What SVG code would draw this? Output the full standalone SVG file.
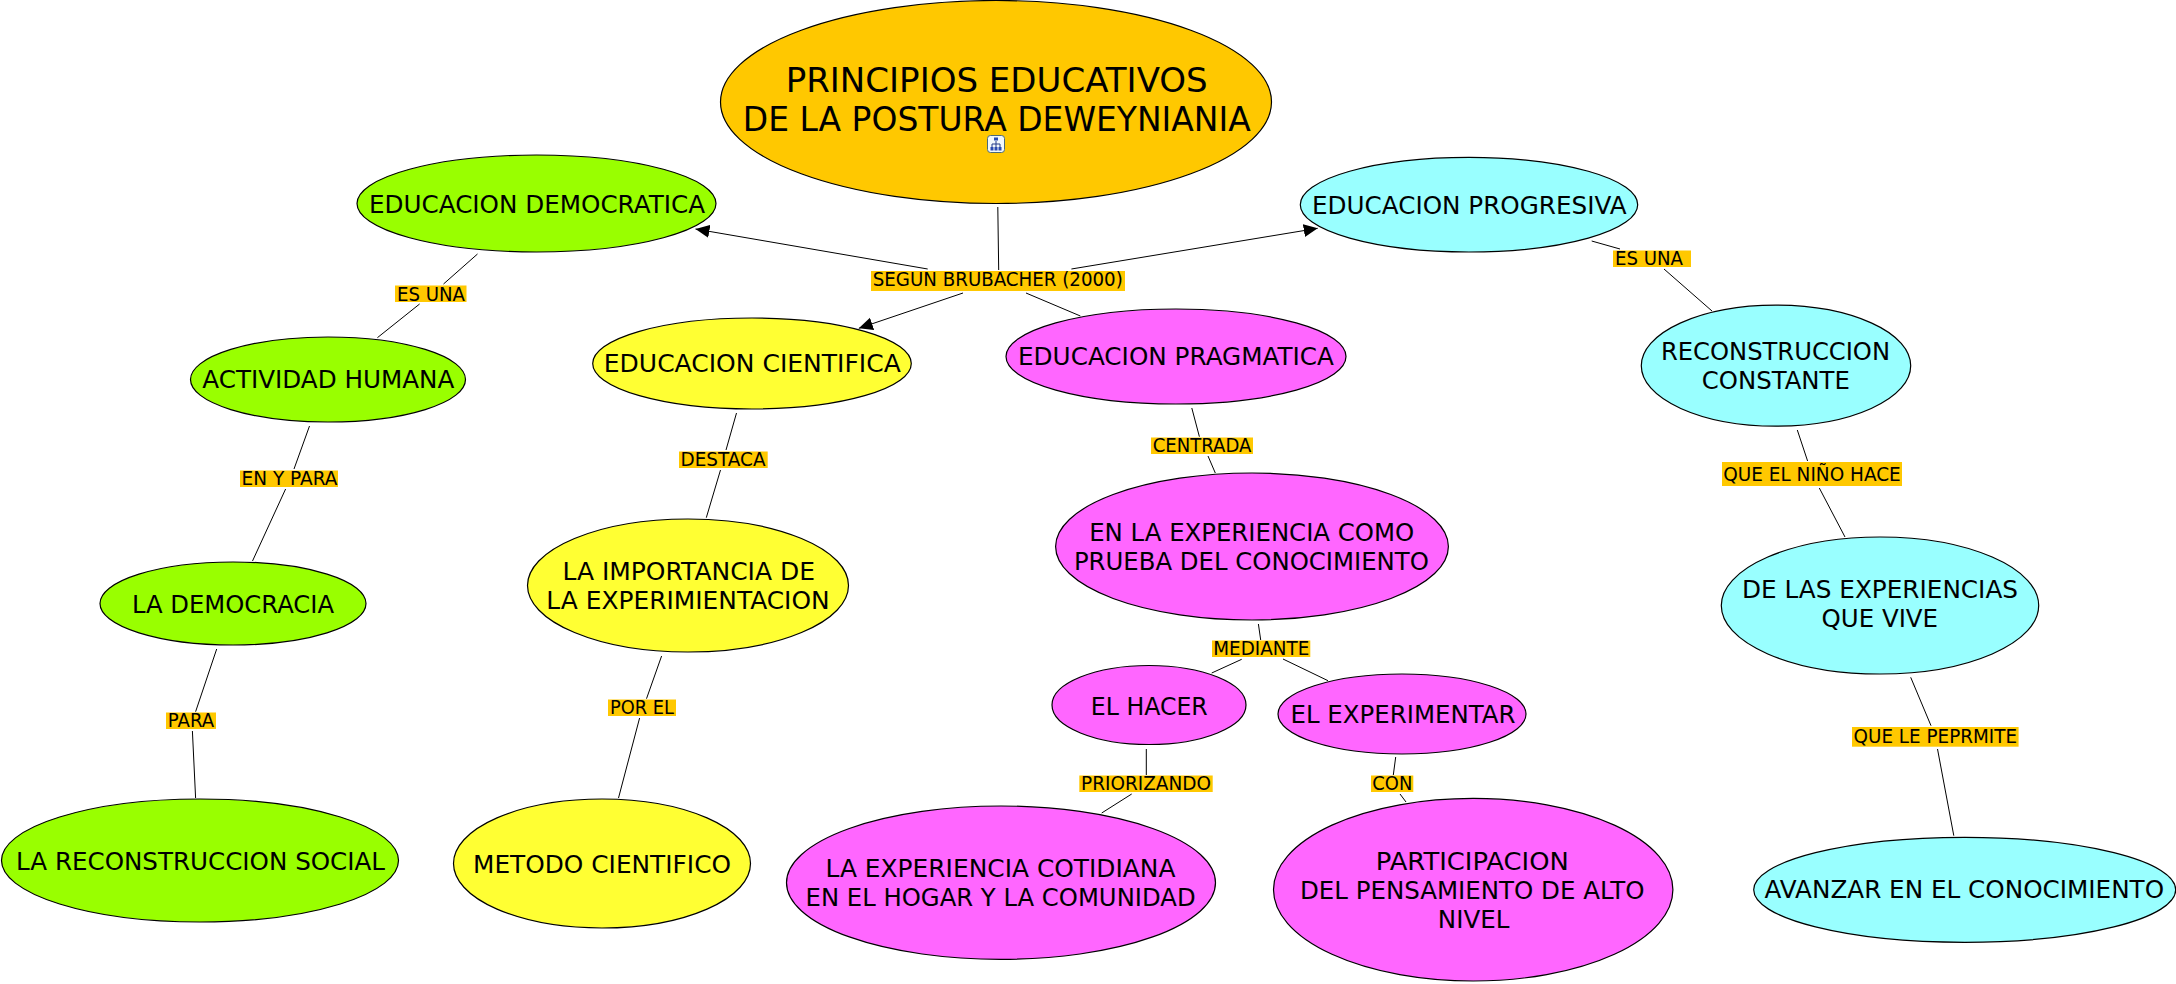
<svg xmlns="http://www.w3.org/2000/svg" width="2176" height="984" viewBox="0 0 2176 984">
<style>
text{font-family:"DejaVu Sans",Verdana,sans-serif;fill:#000;text-anchor:middle}
.n ellipse{stroke:#000;stroke-width:1.2}
.n text{font-size:25px}
.n .t{font-size:34px}
.g ellipse{fill:#99ff00}.y ellipse{fill:#ffff33}.m ellipse{fill:#ff66ff}.c ellipse{fill:#99ffff}
.l rect{fill:#ffc800}
.l text{font-size:19px}
#connectors line{stroke:#000;stroke-width:1}
</style>
<defs><marker id="a" markerUnits="userSpaceOnUse" markerWidth="15" markerHeight="14" refX="14" refY="7" orient="auto"><path d="M0 0.500L14 7L0 13.500z" fill="#000"/></marker></defs>
<rect width="2176" height="984" fill="#fff"/>
<g id="connectors">
<line x1="997.800" y1="207" x2="998.700" y2="270"/>
<line x1="927.700" y1="269" x2="695.500" y2="229" marker-end="url(#a)"/>
<line x1="1071.400" y1="269" x2="1317.700" y2="228.300" marker-end="url(#a)"/>
<line x1="963" y1="293" x2="858.800" y2="328.300" marker-end="url(#a)"/>
<line x1="1026" y1="293" x2="1080.400" y2="316"/>
<line x1="477.500" y1="254" x2="443.500" y2="284"/><line x1="419.600" y1="304" x2="377.400" y2="337.700"/>
<line x1="309.500" y1="426" x2="294" y2="469"/><line x1="285.600" y1="489" x2="252.500" y2="561"/>
<line x1="216.700" y1="649" x2="195.600" y2="711.700"/><line x1="192.400" y1="731" x2="195.600" y2="798"/>
<line x1="736.500" y1="413" x2="726" y2="450"/><line x1="720.500" y1="470" x2="706.300" y2="517.700"/>
<line x1="661.600" y1="656" x2="646.500" y2="698.700"/><line x1="639.600" y1="718" x2="618.500" y2="798"/>
<line x1="1191.800" y1="408" x2="1199.400" y2="436.700"/><line x1="1208" y1="456" x2="1215.300" y2="473"/>
<line x1="1258.400" y1="624" x2="1260.700" y2="640"/><line x1="1241.700" y1="659.300" x2="1211.700" y2="673"/><line x1="1283" y1="659" x2="1328" y2="680.700"/>
<line x1="1146.300" y1="749" x2="1146.300" y2="775"/><line x1="1131.700" y1="794" x2="1101.700" y2="813"/>
<line x1="1395.700" y1="757" x2="1393.300" y2="775"/><line x1="1400" y1="794" x2="1406" y2="802"/>
<line x1="1591.700" y1="241" x2="1620" y2="249"/><line x1="1664" y1="269" x2="1712" y2="311"/>
<line x1="1797.300" y1="430" x2="1807.600" y2="461"/><line x1="1819.300" y1="488" x2="1845" y2="537"/>
<line x1="1910.700" y1="677.300" x2="1931" y2="725.700"/><line x1="1937.500" y1="749" x2="1953.800" y2="835.700"/>
</g>
<g id="n-main" class="n"><ellipse cx="996" cy="102" rx="275.500" ry="101.500" fill="#ffc800"/>
<text class="t" x="996.700" y="92" textLength="422" lengthAdjust="spacingAndGlyphs">PRINCIPIOS EDUCATIVOS</text><text class="t" x="996.800" y="131" textLength="508" lengthAdjust="spacingAndGlyphs">DE LA POSTURA DEWEYNIANIA</text>
<g id="icon"><rect x="987.500" y="135.500" width="17" height="17" rx="3" fill="#f2f8fb" stroke="#4a6a7a"/><path d="M996 141v3M992 144h8M992 144v3M996 144v3M1000 144v3" stroke="#223a88" fill="none"/><rect x="994" y="137.500" width="4" height="3" fill="#2a4ab0"/><rect x="990.500" y="147" width="3" height="3.500" fill="#2a4ab0"/><rect x="994.500" y="147" width="3" height="3.500" fill="#2a4ab0"/><rect x="998.500" y="147" width="3" height="3.500" fill="#2a4ab0"/></g></g>
<g id="n-dem" class="n g"><ellipse cx="536.500" cy="203.500" rx="179.500" ry="48.500"/><text x="537" y="213" textLength="336" lengthAdjust="spacingAndGlyphs">EDUCACION DEMOCRATICA</text></g>
<g id="n-prog" class="n c"><ellipse cx="1469" cy="204.700" rx="168.700" ry="47.300"/><text x="1469.300" y="214" textLength="314.700" lengthAdjust="spacingAndGlyphs">EDUCACION PROGRESIVA</text></g>
<g id="n-cien" class="n y"><ellipse cx="752" cy="363.500" rx="159.300" ry="45.500"/><text x="752.300" y="372" textLength="297" lengthAdjust="spacingAndGlyphs">EDUCACION CIENTIFICA</text></g>
<g id="n-prag" class="n m"><ellipse cx="1176" cy="356.500" rx="170" ry="47.500"/><text x="1176" y="365" textLength="316" lengthAdjust="spacingAndGlyphs">EDUCACION PRAGMATICA</text></g>
<g id="n-act" class="n g"><ellipse cx="328" cy="379.500" rx="137.500" ry="42.500"/><text x="328.300" y="388" textLength="252" lengthAdjust="spacingAndGlyphs">ACTIVIDAD HUMANA</text></g>
<g id="n-rec" class="n c"><ellipse cx="1776" cy="365.700" rx="134.700" ry="60.500"/><text x="1775.500" y="360" textLength="229" lengthAdjust="spacingAndGlyphs">RECONSTRUCCION</text><text x="1775.800" y="389" textLength="148" lengthAdjust="spacingAndGlyphs">CONSTANTE</text></g>
<g id="n-demo" class="n g"><ellipse cx="233" cy="603.500" rx="133" ry="41.500"/><text x="233" y="612.700" textLength="202" lengthAdjust="spacingAndGlyphs">LA DEMOCRACIA</text></g>
<g id="n-imp" class="n y"><ellipse cx="688" cy="585.500" rx="160.500" ry="66.500"/><text x="688.700" y="579.500" textLength="252.600" lengthAdjust="spacingAndGlyphs">LA IMPORTANCIA DE</text><text x="688" y="608.500" textLength="283.300" lengthAdjust="spacingAndGlyphs">LA EXPERIMIENTACION</text></g>
<g id="n-exp" class="n m"><ellipse cx="1252" cy="546.500" rx="196.400" ry="73.500"/><text x="1251.700" y="540.700" textLength="325" lengthAdjust="spacingAndGlyphs">EN LA EXPERIENCIA COMO</text><text x="1251.400" y="569.500" textLength="355" lengthAdjust="spacingAndGlyphs">PRUEBA DEL CONOCIMIENTO</text></g>
<g id="n-las" class="n c"><ellipse cx="1880" cy="605.500" rx="158.700" ry="68.500"/><text x="1880" y="598" textLength="276" lengthAdjust="spacingAndGlyphs">DE LAS EXPERIENCIAS</text><text x="1879.800" y="627" textLength="116.500" lengthAdjust="spacingAndGlyphs">QUE VIVE</text></g>
<g id="n-hac" class="n m"><ellipse cx="1149" cy="705" rx="97" ry="39.500"/><text x="1149.300" y="714.700" textLength="117" lengthAdjust="spacingAndGlyphs">EL HACER</text></g>
<g id="n-expm" class="n m"><ellipse cx="1402" cy="714" rx="124" ry="40"/><text x="1403" y="722.500" textLength="225" lengthAdjust="spacingAndGlyphs">EL EXPERIMENTAR</text></g>
<g id="n-soc" class="n g"><ellipse cx="200" cy="860.500" rx="198.500" ry="61.500"/><text x="200.500" y="870" textLength="369" lengthAdjust="spacingAndGlyphs">LA RECONSTRUCCION SOCIAL</text></g>
<g id="n-met" class="n y"><ellipse cx="602" cy="863.500" rx="148.500" ry="64.500"/><text x="602" y="873" textLength="258" lengthAdjust="spacingAndGlyphs">METODO CIENTIFICO</text></g>
<g id="n-cot" class="n m"><ellipse cx="1001" cy="882.700" rx="214.500" ry="76.700"/><text x="1000.500" y="876.700" textLength="350" lengthAdjust="spacingAndGlyphs">LA EXPERIENCIA COTIDIANA</text><text x="1000.600" y="905.700" textLength="390" lengthAdjust="spacingAndGlyphs">EN EL HOGAR Y LA COMUNIDAD</text></g>
<g id="n-par" class="n m"><ellipse cx="1473.200" cy="889.700" rx="199.700" ry="91.300"/><text x="1472.300" y="870" textLength="193" lengthAdjust="spacingAndGlyphs">PARTICIPACION</text><text x="1472.200" y="899" textLength="344.500" lengthAdjust="spacingAndGlyphs">DEL PENSAMIENTO DE ALTO</text><text x="1473.600" y="927.700" textLength="71.600" lengthAdjust="spacingAndGlyphs">NIVEL</text></g>
<g id="n-ava" class="n c"><ellipse cx="1964.700" cy="889.800" rx="211" ry="52.500"/><text x="1964.300" y="898.300" textLength="399.500" lengthAdjust="spacingAndGlyphs">AVANZAR EN EL CONOCIMIENTO</text></g>
<g id="labels">
<g class="l"><rect x="871" y="271" width="254" height="20"/><text x="997.800" y="285.700" textLength="250" lengthAdjust="spacingAndGlyphs">SEGUN BRUBACHER (2000)</text></g>
<g class="l"><rect x="395" y="285.500" width="71.500" height="16.500"/><text x="431" y="300.500" textLength="68" lengthAdjust="spacingAndGlyphs">ES UNA</text></g>
<g class="l"><rect x="240" y="470.500" width="98" height="16.500"/><text x="289.500" y="485" textLength="96" lengthAdjust="spacingAndGlyphs">EN Y PARA</text></g>
<g class="l"><rect x="166" y="712.500" width="50" height="16.500"/><text x="191" y="727" textLength="46.400" lengthAdjust="spacingAndGlyphs">PARA</text></g>
<g class="l"><rect x="679" y="451.500" width="88.700" height="16.500"/><text x="723" y="466" textLength="85" lengthAdjust="spacingAndGlyphs">DESTACA</text></g>
<g class="l"><rect x="608" y="699.500" width="68" height="16.500"/><text x="642" y="714" textLength="64" lengthAdjust="spacingAndGlyphs">POR EL</text></g>
<g class="l"><rect x="1151" y="437.500" width="102" height="16.500"/><text x="1202" y="452" textLength="98.700" lengthAdjust="spacingAndGlyphs">CENTRADA</text></g>
<g class="l"><rect x="1212" y="640.500" width="98.300" height="16.500"/><text x="1261.300" y="655" textLength="96" lengthAdjust="spacingAndGlyphs">MEDIANTE</text></g>
<g class="l"><rect x="1079.300" y="775.500" width="133.400" height="16.500"/><text x="1146" y="790" textLength="130" lengthAdjust="spacingAndGlyphs">PRIORIZANDO</text></g>
<g class="l"><rect x="1371" y="775.500" width="42.300" height="16.500"/><text x="1392.300" y="790" textLength="40" lengthAdjust="spacingAndGlyphs">CON</text></g>
<g class="l"><rect x="1613" y="250.500" width="78" height="16.500"/><text x="1649" y="265" textLength="68" lengthAdjust="spacingAndGlyphs">ES UNA</text></g>
<g class="l"><rect x="1722" y="462" width="180" height="24"/><text x="1812" y="481" textLength="177.600" lengthAdjust="spacingAndGlyphs">QUE EL NIÑO HACE</text></g>
<g class="l"><rect x="1852" y="727" width="166.600" height="19.700"/><text x="1935.300" y="742.700" textLength="163.400" lengthAdjust="spacingAndGlyphs">QUE LE PEPRMITE</text></g>
</g>
</svg>
